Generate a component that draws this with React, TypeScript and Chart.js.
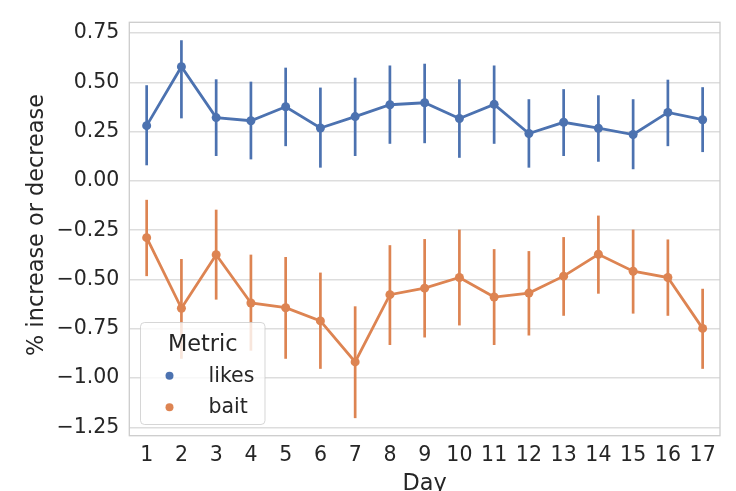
import React, { useEffect, useRef } from "react";
import { Chart, registerables } from "chart.js";

Chart.register(...registerables);

// ---- data ----
const DAYS = ["1", "2", "3", "4", "5", "6", "7", "8", "9", "10", "11", "12", "13", "14", "15", "16", "17"];
const SERIES_NAMES = ["likes", "bait"];
const LEGEND_TITLE = "Metric";
const X_TITLE = "Day";
const Y_TITLE = "% increase or decrease";
const Y_TICKS = [0.75, 0.5, 0.25, 0, -0.25, -0.5, -0.75, -1.0, -1.25];

const likesMean = [0.28, 0.579, 0.321, 0.305, 0.376, 0.268, 0.326, 0.386, 0.396, 0.316, 0.388, 0.24, 0.297, 0.267, 0.235, 0.347, 0.31];
const likesLow = [0.079, 0.317, 0.126, 0.109, 0.176, 0.067, 0.126, 0.188, 0.191, 0.117, 0.188, 0.067, 0.126, 0.097, 0.059, 0.176, 0.146];
const likesHigh = [0.485, 0.713, 0.515, 0.503, 0.574, 0.473, 0.523, 0.585, 0.594, 0.515, 0.585, 0.414, 0.465, 0.434, 0.414, 0.513, 0.475];

const baitMean = [-0.288, -0.646, -0.374, -0.619, -0.643, -0.71, -0.918, -0.577, -0.544, -0.49, -0.589, -0.569, -0.483, -0.372, -0.458, -0.49, -0.748];
const baitLow = [-0.483, -0.902, -0.602, -0.861, -0.902, -0.953, -1.203, -0.832, -0.794, -0.733, -0.832, -0.784, -0.684, -0.572, -0.673, -0.684, -0.953];
const baitHigh = [-0.096, -0.396, -0.146, -0.374, -0.386, -0.465, -0.636, -0.326, -0.295, -0.247, -0.346, -0.356, -0.285, -0.176, -0.247, -0.297, -0.547];

// ---- style ----
const COLORS = ["#4c72b0", "#dd8452"];
const TEXT = "#262626";
const GRID = "#dddddd";
const FONT = "'DejaVu Sans', sans-serif";
const TICK_SIZE = 20.5;
const LABEL_SIZE = 22.4;

const LOWS = [likesLow, baitLow];
const HIGHS = [likesHigh, baitHigh];

const fmt = (v: number) => (v < 0 ? "\u2212" + Math.abs(v).toFixed(2) : v.toFixed(2));

const framePlugin = {
  id: "frame",
  beforeDatasetsDraw(chart: any) {
    const { ctx, chartArea } = chart;
    ctx.save();
    ctx.strokeStyle = "#cccccc";
    ctx.lineWidth = 1.3;
    ctx.strokeRect(chartArea.left, chartArea.top, chartArea.right - chartArea.left, chartArea.bottom - chartArea.top);
    ctx.restore();
  },
};

const errorBarPlugin = {
  id: "errorBars",
  beforeDatasetsDraw(chart: any) {
    const { ctx } = chart;
    const yScale = chart.scales.y;
    ctx.save();
    chart.data.datasets.forEach((ds: any, i: number) => {
      const meta = chart.getDatasetMeta(i);
      ctx.strokeStyle = COLORS[i];
      ctx.lineWidth = 2.7;
      ctx.lineCap = "butt";
      meta.data.forEach((pt: any, j: number) => {
        const y1 = yScale.getPixelForValue(LOWS[i][j]);
        const y2 = yScale.getPixelForValue(HIGHS[i][j]);
        ctx.beginPath();
        ctx.moveTo(pt.x, y1);
        ctx.lineTo(pt.x, y2);
        ctx.stroke();
      });
    });
    ctx.restore();
  },
};

const axisTitlePlugin = {
  id: "axisTitles",
  afterDraw(chart: any) {
    const { ctx, chartArea } = chart;
    ctx.save();
    ctx.fillStyle = TEXT;
    ctx.font = `${LABEL_SIZE}px ${FONT}`;
    ctx.textAlign = "center";
    ctx.textBaseline = "alphabetic";
    ctx.fillText(X_TITLE, (chartArea.left + chartArea.right) / 2, 489.6);
    ctx.translate(43.3, (chartArea.top + chartArea.bottom) / 2 - 4);
    ctx.rotate(-Math.PI / 2);
    ctx.fillText(Y_TITLE, 0, 0);
    ctx.restore();
  },
};

const legendPlugin = {
  id: "metricLegend",
  afterDraw(chart: any) {
    const { ctx } = chart;
    ctx.save();
    const x0 = 140.5, y0 = 322.5, w = 124.5, h = 102;
    ctx.beginPath();
    if ((ctx as any).roundRect) (ctx as any).roundRect(x0, y0, w, h, 4);
    else ctx.rect(x0, y0, w, h);
    ctx.fillStyle = "rgba(255,255,255,0.8)";
    ctx.fill();
    ctx.strokeStyle = "rgba(204,204,204,0.8)";
    ctx.lineWidth = 1;
    ctx.stroke();
    ctx.fillStyle = TEXT;
    ctx.textBaseline = "alphabetic";
    ctx.textAlign = "center";
    ctx.font = `${LABEL_SIZE}px ${FONT}`;
    ctx.fillText(LEGEND_TITLE, x0 + w / 2, 350.5);
    ctx.textAlign = "left";
    ctx.font = `${TICK_SIZE}px ${FONT}`;
    SERIES_NAMES.forEach((name, i) => {
      ctx.fillStyle = COLORS[i];
      ctx.beginPath();
      ctx.arc(169.5, 375.8 + i * 31.5, 4, 0, Math.PI * 2);
      ctx.fill();
      ctx.fillStyle = TEXT;
      ctx.fillText(name, 208.5, 382.3 + i * 30.2);
    });
    ctx.restore();
  },
};

export default function App() {
  const ref = useRef<HTMLCanvasElement>(null);
  useEffect(() => {
    if (!ref.current) return;
    const chart = new Chart(ref.current, {
      type: "line",
      data: {
        labels: DAYS,
        datasets: [
          {
            label: SERIES_NAMES[0],
            data: likesMean,
            borderColor: COLORS[0],
            backgroundColor: COLORS[0],
            borderWidth: 2.8,
            pointRadius: 4.5,
            pointBorderWidth: 0,
            tension: 0,
          },
          {
            label: SERIES_NAMES[1],
            data: baitMean,
            borderColor: COLORS[1],
            backgroundColor: COLORS[1],
            borderWidth: 2.8,
            pointRadius: 4.5,
            pointBorderWidth: 0,
            tension: 0,
          },
        ],
      },
      options: {
        animation: false,
        responsive: true,
        maintainAspectRatio: false,
        layout: { padding: { top: 19.3, right: 16, left: 0, bottom: 0 } },
        plugins: { legend: { display: false }, tooltip: { enabled: false } },
        scales: {
          x: {
            type: "category",
            offset: true,
            grid: { display: false, drawTicks: false },
            border: { display: false },
            ticks: {
              color: TEXT,
              font: { family: FONT, size: TICK_SIZE },
              padding: 8,
              maxRotation: 0,
              autoSkip: false,
            },
            title: { display: false },
            afterFit: (s: any) => {
              s.height = 55.3;
            },
          },
          y: {
            min: -1.292,
            max: 0.804,
            grid: { color: GRID, lineWidth: 1.4, drawTicks: false },
            border: { display: false },
            afterBuildTicks: (s: any) => {
              s.ticks = Y_TICKS.map((v) => ({ value: v }));
            },
            ticks: {
              color: TEXT,
              font: { family: FONT, size: TICK_SIZE },
              padding: 10,
              callback: (v: any) => fmt(Number(v)),
            },
            title: { display: false },
            afterFit: (s: any) => {
              s.width = 129.3;
            },
          },
        },
      },
      plugins: [framePlugin, errorBarPlugin, axisTitlePlugin, legendPlugin],
    });
    return () => chart.destroy();
  }, []);
  return (
    <div style={{ position: "fixed", left: 0, top: 0, width: 736, height: 491, background: "#fff" }}>
      <canvas ref={ref} />
    </div>
  );
}
